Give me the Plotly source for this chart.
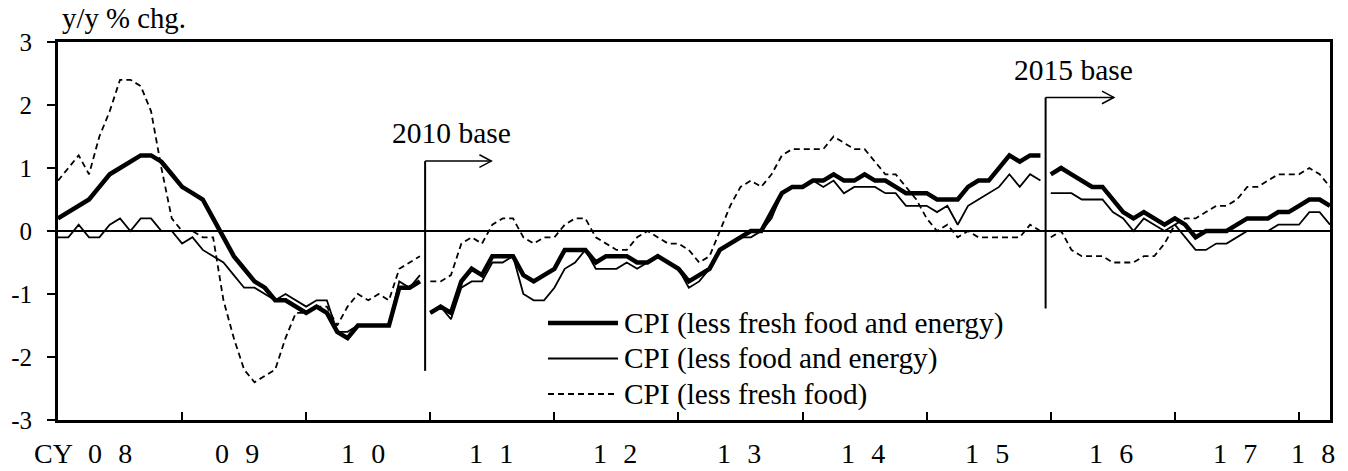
import plotly.graph_objects as go

# Monthly y/y % change, Jan 2008 onward. Each CPI base period is drawn as its own segment.
# 2005 base: Jan 2008 - Dec 2010
core_core_2005 = [0.2, 0.3, 0.4, 0.5, 0.7, 0.9, 1.0, 1.1, 1.2, 1.2, 1.1, 0.9,
                  0.7, 0.6, 0.5, 0.2, -0.1, -0.4, -0.6, -0.8, -0.9, -1.1, -1.1, -1.2,
                  -1.3, -1.2, -1.3, -1.6, -1.7, -1.5, -1.5, -1.5, -1.5, -0.9, -0.9, -0.8]
less_food_energy_2005 = [-0.1, -0.1, 0.1, -0.1, -0.1, 0.1, 0.2, 0.0, 0.2, 0.2, 0.0, 0.0,
                         -0.2, -0.1, -0.3, -0.4, -0.5, -0.7, -0.9, -0.9, -1.0, -1.1, -1.0, -1.1,
                         -1.2, -1.1, -1.1, -1.6, -1.6, -1.5, -1.5, -1.5, -1.5, -0.8, -0.9, -0.7]
core_2005 = [0.8, 1.0, 1.2, 0.9, 1.5, 1.9, 2.4, 2.4, 2.3, 1.9, 1.0, 0.2,
             0.0, 0.0, -0.1, -0.1, -1.1, -1.7, -2.2, -2.4, -2.3, -2.2, -1.7, -1.3,
             -1.3, -1.2, -1.2, -1.5, -1.2, -1.0, -1.1, -1.0, -1.1, -0.6, -0.5, -0.4]

# 2010 base: Jan 2011 - Dec 2015
core_core_2010 = [-1.3, -1.2, -1.3, -0.8, -0.6, -0.7, -0.4, -0.4, -0.4, -0.7, -0.8, -0.7,
                  -0.6, -0.3, -0.3, -0.3, -0.5, -0.4, -0.4, -0.4, -0.5, -0.5, -0.4, -0.5,
                  -0.6, -0.8, -0.7, -0.6, -0.3, -0.2, -0.1, 0.0, 0.0, 0.3, 0.6, 0.7,
                  0.7, 0.8, 0.8, 0.9, 0.8, 0.8, 0.9, 0.8, 0.8, 0.7, 0.6, 0.6,
                  0.6, 0.5, 0.5, 0.5, 0.7, 0.8, 0.8, 1.0, 1.2, 1.1, 1.2, 1.2]
less_food_energy_2010 = [-1.3, -1.2, -1.4, -0.9, -0.8, -0.8, -0.5, -0.5, -0.4, -1.0, -1.1, -1.1,
                         -0.9, -0.6, -0.5, -0.3, -0.6, -0.6, -0.6, -0.5, -0.6, -0.5, -0.4, -0.5,
                         -0.6, -0.9, -0.8, -0.6, -0.3, -0.2, -0.1, -0.1, 0.0, 0.2, 0.6, 0.7,
                         0.7, 0.8, 0.7, 0.8, 0.6, 0.7, 0.7, 0.7, 0.6, 0.6, 0.4, 0.4,
                         0.4, 0.3, 0.4, 0.1, 0.4, 0.5, 0.6, 0.7, 0.9, 0.7, 0.9, 0.8]
core_2010 = [-0.8, -0.8, -0.7, -0.2, -0.1, -0.2, 0.1, 0.2, 0.2, -0.1, -0.2, -0.1,
             -0.1, 0.1, 0.2, 0.2, -0.1, -0.2, -0.3, -0.3, -0.1, 0.0, -0.1, -0.2,
             -0.2, -0.3, -0.5, -0.4, 0.0, 0.4, 0.7, 0.8, 0.7, 0.9, 1.2, 1.3,
             1.3, 1.3, 1.3, 1.5, 1.4, 1.3, 1.3, 1.1, 0.9, 0.9, 0.7, 0.5,
             0.2, 0.0, 0.1, -0.1, 0.0, -0.1, -0.1, -0.1, -0.1, -0.1, 0.1, 0.0]

# 2015 base: Jan 2016 - Apr 2018
core_core_2015 = [0.9, 1.0, 0.9, 0.8, 0.7, 0.7, 0.5, 0.3, 0.2, 0.3, 0.2, 0.1,
                  0.2, 0.1, -0.1, 0.0, 0.0, 0.0, 0.1, 0.2, 0.2, 0.2, 0.3, 0.3,
                  0.4, 0.5, 0.5, 0.4]
less_food_energy_2015 = [0.6, 0.6, 0.6, 0.5, 0.5, 0.5, 0.3, 0.2, 0.0, 0.2, 0.1, 0.0,
                         0.1, -0.1, -0.3, -0.3, -0.2, -0.2, -0.1, 0.0, 0.0, 0.0, 0.1, 0.1,
                         0.1, 0.3, 0.3, 0.1]
core_2015 = [-0.1, 0.0, -0.3, -0.4, -0.4, -0.4, -0.5, -0.5, -0.5, -0.4, -0.4, -0.2,
             0.1, 0.2, 0.2, 0.3, 0.4, 0.4, 0.5, 0.7, 0.7, 0.8, 0.9, 0.9,
             0.9, 1.0, 0.9, 0.7]

series_names = ["CPI (less fresh food and energy)",
                "CPI (less food and energy)",
                "CPI (less fresh food)"]
year_labels = ["08", "09", "10", "11", "12", "13", "14", "15", "16", "17", "18"]
y_ticks = [-3, -2, -1, 0, 1, 2, 3]
y_tick_text = ["-3", "-2", "-1", "0", "1", "2", "3"]

FONT = "'Liberation Serif', 'Times New Roman', Times, 'DejaVu Serif', serif"
W, H = 1348, 471
ML, MR, MT, MB = 58, 18, 42, 51
PW, PH = W - ML - MR, H - MT - MB


def px_x(p):
    return (p - ML) / PW


def px_y(p):
    return (H - MB - p) / PH


def spaced(s):
    # wide letter spacing between the two digits of a year label
    return "\u2002\u200a".join(s)


styles = [dict(color="black", width=4.5),
          dict(color="black", width=1.8),
          dict(color="black", width=1.8, dash="6px,4px")]

segments = [
    (0, [core_core_2005, less_food_energy_2005, core_2005]),
    (36, [core_core_2010, less_food_energy_2010, core_2010]),
    (96, [core_core_2015, less_food_energy_2015, core_2015]),
]
n_months = 96 + len(core_core_2015)

fig = go.Figure()
for k in range(3):
    for start, group in segments:
        vals = group[k]
        fig.add_trace(go.Scatter(
            x=list(range(start, start + len(vals))), y=vals,
            mode="lines", line=styles[k], name=series_names[k],
            showlegend=False, hoverinfo="x+y"))

# calendar-year boundaries every 12 months
year_bounds = list(range(12, n_months, 12))

shapes = []
annotations = []

# base-revision markers: vertical bar with a right-pointing open arrow
for xb, y_top, y_bot, x_end, label, lx, ly in [
        (35.5, 1.11, -2.22, 41.9, "2010 base", 451, 132.5),
        (95.5, 2.12, -1.23, 102.1, "2015 base", 1073, 69.5)]:
    shapes.append(dict(type="line", xref="x", yref="y", x0=xb, x1=xb, y0=y_top, y1=y_bot,
                       line=dict(color="black", width=2)))
    shapes.append(dict(type="line", xref="x", yref="y", x0=xb, x1=x_end, y0=y_top, y1=y_top,
                       line=dict(color="black", width=1.5)))
    shapes.append(dict(type="path", xref="x", yref="y",
                       path=f"M {x_end - 1.15},{y_top + 0.1} L {x_end},{y_top} L {x_end - 1.15},{y_top - 0.1}",
                       line=dict(color="black", width=1.5)))
    annotations.append(dict(text=label, xref="paper", yref="paper", x=px_x(lx), y=px_y(ly),
                            xanchor="center", yanchor="middle", showarrow=False,
                            font=dict(family=FONT, size=29.5, color="black")))

# legend drawn inside the plot area
for k, row_y in enumerate([323, 358.5, 394]):
    shapes.append(dict(type="line", xref="paper", yref="paper",
                       x0=px_x(548), x1=px_x(618), y0=px_y(row_y), y1=px_y(row_y),
                       line=styles[k]))
    annotations.append(dict(text=series_names[k], xref="paper", yref="paper",
                            x=px_x(622), y=px_y(row_y), xanchor="left", yanchor="middle",
                            showarrow=False, font=dict(family=FONT, size=29.3, color="black")))

# year labels centred in each calendar year (the first ones sit slightly left)
label_shift = [None, -0.7, -0.5] + [-0.15] * 8
for i, lab in enumerate(year_labels):
    start = 12 * i
    end = min(start + 12, n_months - 1)
    xc = (start + end) / 2 + label_shift[i] if i else 5.0
    annotations.append(dict(text=spaced(lab), xref="x", yref="paper", x=xc, y=px_y(453.5),
                            xanchor="center", yanchor="middle", showarrow=False,
                            font=dict(family=FONT, size=28, color="black")))
annotations.append(dict(text="CY", xref="paper", yref="paper", x=px_x(53), y=px_y(453.5),
                        xanchor="center", yanchor="middle", showarrow=False,
                        font=dict(family=FONT, size=28, color="black")))
annotations.append(dict(text="y/y % chg.", xref="paper", yref="paper", x=px_x(60), y=px_y(18),
                        xanchor="left", yanchor="middle", showarrow=False,
                        font=dict(family=FONT, size=28.8, color="black")))

fig.update_layout(
    width=W, height=H,
    margin=dict(l=ML, r=MR, t=MT, b=MB, pad=0),
    plot_bgcolor="white", paper_bgcolor="white",
    font=dict(family=FONT, color="black"),
    shapes=shapes, annotations=annotations,
    xaxis=dict(range=[0, n_months - 1], showgrid=False, zeroline=False,
               showline=True, linecolor="black", linewidth=3, mirror=True,
               ticks="inside", ticklen=8, tickwidth=2, tickcolor="black",
               tickvals=year_bounds, showticklabels=False, fixedrange=True),
    yaxis=dict(range=[-3, 3], showgrid=False, zeroline=True, zerolinecolor="black",
               zerolinewidth=1.5, showline=True, linecolor="black", linewidth=3, mirror=True,
               ticks="outside", ticklen=8, tickwidth=2, tickcolor="black",
               tickvals=y_ticks, ticktext=y_tick_text, ticklabelstandoff=10,
               tickfont=dict(family=FONT, size=25, color="black"), fixedrange=True),
)

fig.write_html("out.html")
